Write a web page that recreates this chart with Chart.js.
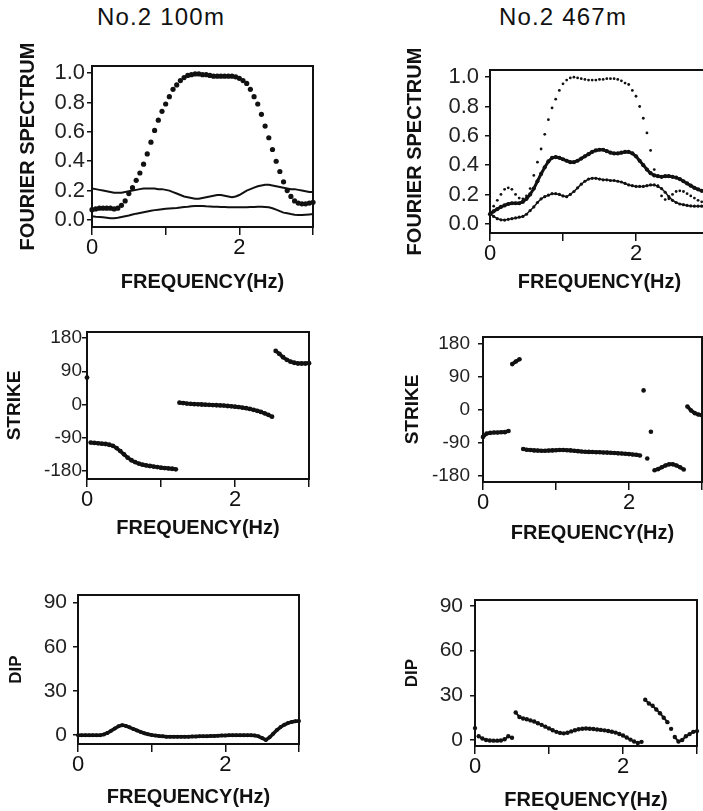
<!DOCTYPE html>
<html>
<head>
<meta charset="utf-8">
<script src="https://cdn.jsdelivr.net/npm/chart.js@4.4.0/dist/chart.umd.min.js"></script>
<style>
  html, body { margin: 0; padding: 0; background: #fff; overflow: hidden; }
  body { width: 703px; height: 811px; position: relative; }
  canvas { position: absolute; }
  .title {
    position: absolute; top: 5px; font: 24px/24px 'Liberation Sans', Arial, sans-serif;
    letter-spacing: 1.2px; color: #111; transform: translateX(-50%); white-space: nowrap;
  }
</style>
</head>
<body>
<div class="title" style="left:161px">No.2 100m</div>
<div class="title" style="left:563px">No.2 467m</div>
<canvas id="spec100"></canvas>
<canvas id="spec467"></canvas>
<canvas id="strike100"></canvas>
<canvas id="strike467"></canvas>
<canvas id="dip100"></canvas>
<canvas id="dip467"></canvas>
<script>
// frequency samples (Hz), shared by every panel
const freqHz = [0.00, 0.05, 0.10, 0.15, 0.20, 0.25, 0.30, 0.35, 0.40, 0.45,
  0.50, 0.55, 0.60, 0.65, 0.70, 0.75, 0.80, 0.85, 0.90, 0.95,
  1.00, 1.05, 1.10, 1.15, 1.20, 1.25, 1.30, 1.35, 1.40, 1.45,
  1.50, 1.55, 1.60, 1.65, 1.70, 1.75, 1.80, 1.85, 1.90, 1.95,
  2.00, 2.05, 2.10, 2.15, 2.20, 2.25, 2.30, 2.35, 2.40, 2.45,
  2.50, 2.55, 2.60, 2.65, 2.70, 2.75, 2.80, 2.85, 2.90, 2.95, 3.00];

// No.2 100m - fourier spectrum
const spec100Norm = [0.07, 0.075, 0.08, 0.08, 0.08, 0.08, 0.075, 0.08, 0.10, 0.13,
  0.18, 0.22, 0.27, 0.32, 0.38, 0.45, 0.53, 0.61, 0.68, 0.74,
  0.79, 0.84, 0.89, 0.92, 0.95, 0.97, 0.985, 0.99, 0.995, 0.995,
  0.99, 0.99, 0.985, 0.98, 0.98, 0.98, 0.98, 0.98, 0.98, 0.975,
  0.965, 0.95, 0.93, 0.89, 0.84, 0.79, 0.72, 0.64, 0.56, 0.48,
  0.40, 0.33, 0.26, 0.20, 0.16, 0.13, 0.115, 0.11, 0.11, 0.115, 0.12];
const spec100Upper = [0.215, 0.21, 0.205, 0.20, 0.195, 0.19, 0.185, 0.185, 0.185, 0.19,
  0.195, 0.20, 0.205, 0.21, 0.215, 0.215, 0.215, 0.215, 0.21, 0.21,
  0.205, 0.20, 0.19, 0.18, 0.17, 0.16, 0.155, 0.15, 0.145, 0.145,
  0.15, 0.155, 0.16, 0.165, 0.17, 0.17, 0.165, 0.16, 0.155, 0.16,
  0.17, 0.185, 0.20, 0.21, 0.22, 0.23, 0.235, 0.24, 0.24, 0.235,
  0.23, 0.225, 0.22, 0.215, 0.21, 0.21, 0.205, 0.20, 0.195, 0.19, 0.19];
const spec100Lower = [0.025, 0.022, 0.02, 0.018, 0.015, 0.012, 0.012, 0.015, 0.02, 0.025,
  0.03, 0.037, 0.043, 0.048, 0.053, 0.058, 0.063, 0.067, 0.07, 0.073,
  0.076, 0.078, 0.08, 0.082, 0.085, 0.088, 0.09, 0.093, 0.095, 0.095,
  0.095, 0.093, 0.092, 0.09, 0.09, 0.088, 0.088, 0.087, 0.087, 0.086,
  0.086, 0.086, 0.087, 0.088, 0.089, 0.09, 0.09, 0.089, 0.086, 0.08,
  0.07, 0.06, 0.05, 0.045, 0.04, 0.036, 0.034, 0.034, 0.036, 0.038, 0.04];

// No.2 467m - fourier spectrum
const spec467Norm = [0.07, 0.12, 0.16, 0.20, 0.235, 0.245, 0.235, 0.20, 0.175, 0.17,
  0.19, 0.24, 0.33, 0.42, 0.51, 0.61, 0.71, 0.79, 0.85, 0.91,
  0.955, 0.98, 0.995, 1.0, 0.995, 0.99, 0.985, 0.98, 0.98, 0.98,
  0.985, 0.985, 0.99, 0.99, 0.99, 0.985, 0.975, 0.96, 0.95, 0.91,
  0.87, 0.80, 0.72, 0.62, 0.50, 0.37, 0.26, 0.19, 0.165, 0.17,
  0.20, 0.22, 0.225, 0.22, 0.205, 0.19, 0.175, 0.16, 0.15, 0.14, 0.13];
const spec467Thick = [0.065, 0.085, 0.10, 0.115, 0.125, 0.135, 0.14, 0.14, 0.14, 0.15,
  0.17, 0.20, 0.24, 0.29, 0.34, 0.385, 0.425, 0.45, 0.455, 0.45,
  0.44, 0.43, 0.42, 0.42, 0.43, 0.445, 0.46, 0.475, 0.49, 0.50,
  0.505, 0.505, 0.495, 0.485, 0.48, 0.48, 0.485, 0.49, 0.49, 0.48,
  0.46, 0.43, 0.40, 0.37, 0.345, 0.33, 0.325, 0.32, 0.325, 0.325,
  0.32, 0.315, 0.305, 0.29, 0.275, 0.26, 0.245, 0.235, 0.225, 0.22, 0.215];
const spec467Mid = [0.07, 0.05, 0.035, 0.027, 0.025, 0.03, 0.035, 0.04, 0.045, 0.05,
  0.065, 0.09, 0.115, 0.145, 0.17, 0.185, 0.195, 0.205, 0.205, 0.20,
  0.19, 0.185, 0.20, 0.22, 0.245, 0.27, 0.29, 0.305, 0.31, 0.31,
  0.305, 0.30, 0.30, 0.295, 0.295, 0.29, 0.285, 0.275, 0.265, 0.26,
  0.255, 0.255, 0.255, 0.26, 0.265, 0.265, 0.255, 0.24, 0.215, 0.185,
  0.16, 0.145, 0.135, 0.13, 0.125, 0.122, 0.12, 0.12, 0.12, 0.12, 0.12];

// strike (deg)
const strike100 = [73, -103, -104, -105, -106, -107, -109, -112, -118, -126,
  -135, -144, -151, -156, -160, -163, -165, -166.5, -168, -169.5,
  -171, -172, -173, -174, -175.5, 5, 4, 2.5, 1.8, 1,
  0.5, 0, -0.5, -1, -1.5, -2, -2.5, -3, -4, -5,
  -6, -7, -8.5, -10, -12, -14.5, -17, -20, -24, -28,
  -33, 145, 137, 128, 121, 116, 113, 111, 111, 111, 112];
const strike467 = [-75, -66, -64, -63, -63, -62.5, -62, -59, 124, 131,
  137, -108, -110, -111, -112, -112.5, -113, -113, -112.5, -112,
  -111.5, -111, -111, -111.5, -112, -113, -114, -115, -115.5, -116,
  -116.5, -117, -117, -117.5, -118, -118.5, -119, -120, -120.5, -121,
  -122, -123, -124, -126, 52, -134, -61, -166, -163, -158,
  -153, -150, -150, -153, -158, -164, 8, -3, -10, -14, -16];

// dip (deg)
const dip100 = [0, 0, 0, 0, 0, 0, 0, 0.5, 1.5, 3,
  4.5, 6, 6.8, 6.3, 5.3, 4.2, 3.2, 2.2, 1.3, 0.6,
  0.1, -0.3, -0.6, -0.8, -1, -1, -1.1, -1.1, -1, -1,
  -1, -0.9, -0.9, -0.8, -0.8, -0.7, -0.6, -0.5, -0.4, -0.3,
  -0.2, -0.1, 0, 0, 0, 0, -0.1, -0.1, -0.3, -0.8,
  -2, -3.2, -1.5, 1, 3.5, 5.5, 7, 8.2, 9, 9.5, 9.6];
const dip467 = [8, 2.5, 1, 0, -0.3, -0.4, -0.4, -0.3, 0.5, 2.5,
  1.5, 18.5, 15.5, 14.5, 14, 13.2, 12.4, 11.3, 10.2, 9,
  7.8, 6.6, 5.5, 4.8, 4.5, 4.9, 5.8, 6.6, 7.2, 7.6,
  7.7, 7.6, 7.4, 7.1, 6.8, 6.5, 6.1, 5.6, 5, 4.1,
  3, 1.7, 0.3, -1, -2, -1.2, 27, 24.5, 23, 20.5,
  18, 15, 12, 7.5, 2, -1, 0, 2.5, 4, 5.5, 6];

// ticks
const freqTicks = [0, 1, 2, 3];
const freqTickLabels = ['0', '', '2', ''];
const specTicks = [0, 0.2, 0.4, 0.6, 0.8, 1.0];
const specTickLabels = ['0.0', '0.2', '0.4', '0.6', '0.8', '1.0'];
const strikeTicks = [-180, -90, 0, 90, 180];
const strikeTickLabels = ['-180', '-90', '0', '90', '180'];
const dipTicks = [0, 30, 60, 90];
const dipTickLabels = ['0', '30', '60', '90'];

const ink = '#111';
const family = "'Liberation Sans', Arial, sans-serif";

const xy = series => freqHz.map((f, i) => ({ x: f, y: series[i] }));
const dots = (series, r) => ({
  data: xy(series), showLine: false, pointRadius: r, pointHoverRadius: r,
  pointBackgroundColor: ink, pointBorderWidth: 0, clip: false
});
const line = (series, w, r) => ({
  data: xy(series), showLine: true, borderColor: ink, borderWidth: w, tension: 0,
  pointRadius: r || 0, pointHoverRadius: r || 0, pointBackgroundColor: ink, pointBorderWidth: 0, clip: false
});
// dotted trace joined by a line, but not across jumps (phase wraps etc.)
const trace = (series, r, w, jump) => Object.assign(line(series, w, r), {
  segment: { borderColor: c => Math.abs(c.p1.parsed.y - c.p0.parsed.y) > jump ? 'rgba(0,0,0,0)' : ink }
});

// frame round the plot area
const framePlugin = {
  id: 'frame',
  afterDraw(chart) {
    const { ctx, chartArea: a } = chart;
    ctx.save();
    ctx.strokeStyle = ink;
    ctx.lineWidth = 2;
    ctx.strokeRect(a.left, a.top, a.right - a.left, a.bottom - a.top);
    ctx.restore();
  }
};

function panel(id, box, cfg) {
  const lhY = cfg.yTitleSize * 1.2, lhX = 20 * 1.2;
  const left = Math.round(cfg.yTitleX - lhY / 2);
  const top = box.t - 30;
  const right = box.r + 12;
  const bottom = Math.round(cfg.xTitleY + lhX / 2);
  const cv = document.getElementById(id);
  cv.width = right - left;
  cv.height = bottom - top;
  cv.style.left = left + 'px';
  cv.style.top = top + 'px';
  const yW = box.l - left, xH = bottom - box.b;

  new Chart(cv, {
    type: 'scatter',
    data: { datasets: cfg.datasets },
    options: {
      responsive: false,
      animation: false,
      devicePixelRatio: 1,
      layout: { padding: { top: 30, right: 12, left: 0, bottom: 0 } },
      plugins: { legend: { display: false }, tooltip: { enabled: false } },
      scales: {
        x: {
          type: 'linear', min: 0, max: 3,
          afterBuildTicks: s => { s.ticks = freqTicks.map(v => ({ value: v })); },
          afterFit: s => { s.height = xH; },
          ticks: {
            callback: v => freqTickLabels[freqTicks.indexOf(v)],
            font: { family, size: 22 }, color: ink, padding: 0, maxRotation: 0, autoSkip: false
          },
          grid: { drawOnChartArea: false, tickLength: 8, color: ink, lineWidth: 1.5 },
          border: { display: false },
          title: { display: true, text: 'FREQUENCY(Hz)', color: ink, padding: 0,
                   font: { family, size: 20, weight: 'bold' } }
        },
        y: {
          type: 'linear', min: cfg.yMin, max: cfg.yMax,
          afterBuildTicks: s => { s.ticks = cfg.yTicks.map(v => ({ value: v })); },
          afterFit: s => { s.width = yW; },
          ticks: {
            callback: v => cfg.yLabels[cfg.yTicks.indexOf(v)],
            font: { family, size: cfg.yTickSize }, color: '#222', padding: cfg.yPad, autoSkip: false
          },
          grid: { drawOnChartArea: false, tickLength: 5, color: ink, lineWidth: 1.5 },
          border: { display: false },
          title: { display: true, text: cfg.yTitle, color: ink, padding: 0,
                   font: { family, size: cfg.yTitleSize, weight: 'bold' } }
        }
      }
    },
    plugins: [framePlugin]
  });
}

panel('spec100', { l: 92, t: 66, r: 313, b: 227 }, {
  yMin: -0.048, yMax: 1.049, yTicks: specTicks, yLabels: specTickLabels, yTickSize: 22, yPad: 2,
  yTitle: 'FOURIER SPECTRUM', yTitleSize: 20, yTitleX: 28, xTitleY: 282,
  datasets: [dots(spec100Norm, 2.6), line(spec100Upper, 2), line(spec100Lower, 2)]
});
panel('spec467', { l: 490, t: 70, r: 709, b: 233 }, {
  yMin: -0.063, yMax: 1.049, yTicks: specTicks, yLabels: specTickLabels, yTickSize: 22, yPad: 6,
  yTitle: 'FOURIER SPECTRUM', yTitleSize: 20, yTitleX: 415, xTitleY: 282,
  datasets: [dots(spec467Norm, 1.4), line(spec467Thick, 3, 2.1), line(spec467Mid, 1.5, 1.6)]
});
panel('strike100', { l: 87, t: 332, r: 309, b: 479 }, {
  yMin: -201.7, yMax: 196.3, yTicks: strikeTicks, yLabels: strikeTickLabels, yTickSize: 19, yPad: 0,
  yTitle: 'STRIKE', yTitleSize: 19, yTitleX: 14, xTitleY: 528,
  datasets: [trace(strike100, 2.4, 3.5, 30)]
});
panel('strike467', { l: 483, t: 337, r: 702, b: 482 }, {
  yMin: -198.3, yMax: 198, yTicks: strikeTicks, yLabels: strikeTickLabels, yTickSize: 19, yPad: 8,
  yTitle: 'STRIKE', yTitleSize: 19, yTitleX: 412, xTitleY: 533,
  datasets: [trace(strike467, 2.3, 3.5, 30)]
});
panel('dip100', { l: 78, t: 595, r: 299, b: 744 }, {
  yMin: -6, yMax: 95.2, yTicks: dipTicks, yLabels: dipTickLabels, yTickSize: 21, yPad: 6,
  yTitle: 'DIP', yTitleSize: 17, yTitleX: 16, xTitleY: 797,
  datasets: [trace(dip100, 2, 3.5, 10)]
});
panel('dip467', { l: 475, t: 600, r: 697, b: 746 }, {
  yMin: -4, yMax: 94, yTicks: dipTicks, yLabels: dipTickLabels, yTickSize: 21, yPad: 7,
  yTitle: 'DIP', yTitleSize: 17, yTitleX: 412, xTitleY: 800,
  datasets: [trace(dip467, 2.2, 2, 4)]
});
</script>
</body>
</html>
